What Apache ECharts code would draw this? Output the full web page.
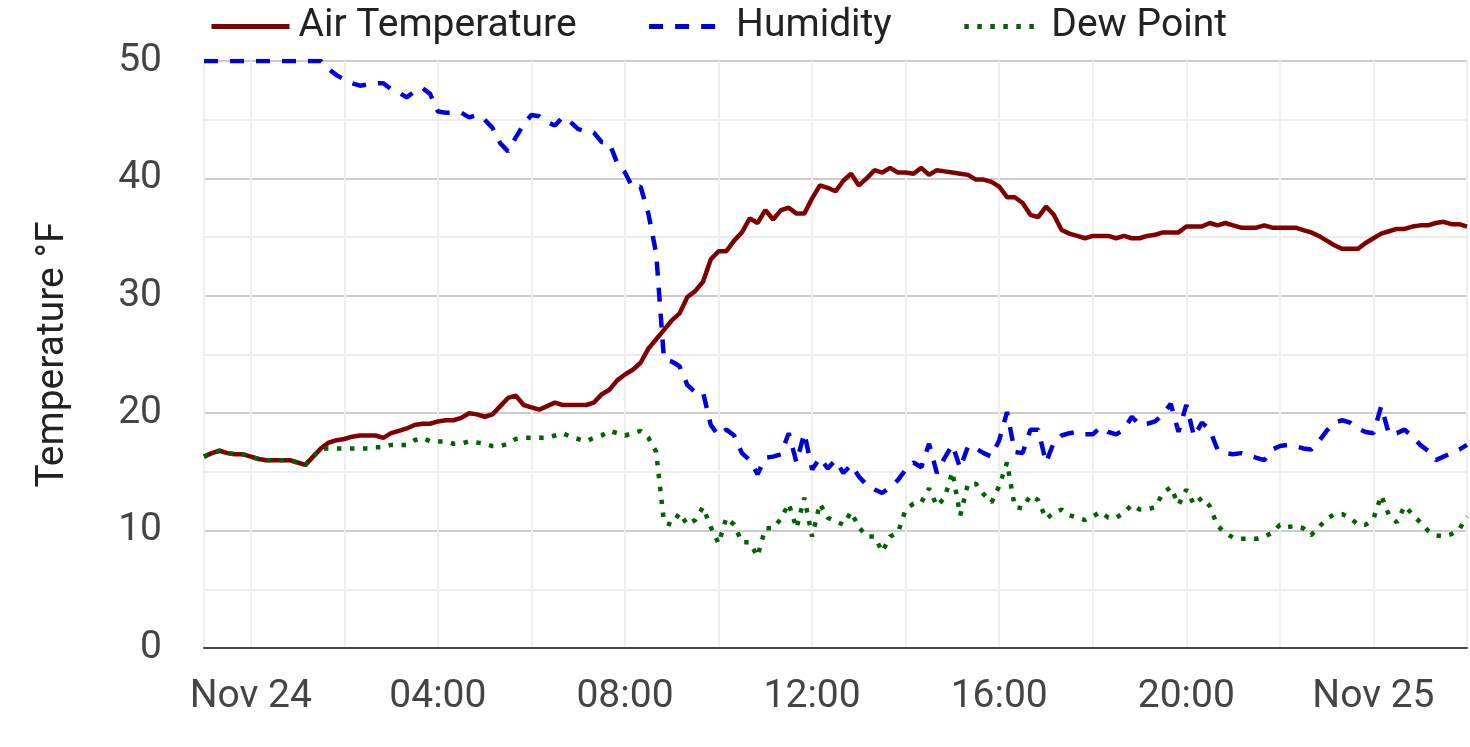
<!DOCTYPE html>
<html>
<head>
<meta charset="utf-8">
<script src="https://cdn.jsdelivr.net/npm/echarts@6/dist/echarts.min.js"></script>
<style>
  html, body { margin: 0; padding: 0; background: #fff; }
  #main { width: 1470px; height: 747px; }
</style>
</head>
<body>
<div id="main"></div>
<script>
// readings every 10 minutes, from Nov 23 23:00 to Nov 25 02:00
var startTime = new Date(2023, 10, 23, 23, 0, 0).getTime();
var stepMs = 10 * 60 * 1000;

var airTemp = [
  16.3, 16.6, 16.8, 16.6, 16.5, 16.5, 16.3, 16.1, 16.0, 16.0,
  16.0, 16.0, 15.8, 15.6, 16.3, 17.0, 17.5, 17.7, 17.8, 18.0,
  18.1, 18.1, 18.1, 17.9, 18.3, 18.5, 18.7, 19.0, 19.1, 19.1,
  19.3, 19.4, 19.4, 19.6, 20.0, 19.9, 19.7, 19.9, 20.6, 21.3,
  21.5, 20.7, 20.5, 20.3, 20.6, 20.9, 20.7, 20.7, 20.7, 20.7,
  20.9, 21.6, 22.0, 22.8, 23.3, 23.7, 24.3, 25.5, 26.3, 27.1,
  27.9, 28.5, 29.9, 30.4, 31.2, 33.1, 33.8, 33.8, 34.7, 35.4,
  36.6, 36.2, 37.3, 36.5, 37.3, 37.5, 37.0, 37.0, 38.3, 39.4,
  39.2, 38.9, 39.8, 40.4, 39.4, 40.0, 40.7, 40.5, 40.9, 40.5,
  40.5, 40.4, 40.9, 40.3, 40.7, 40.6, 40.5, 40.4, 40.3, 39.9,
  39.9, 39.7, 39.3, 38.4, 38.4, 37.9, 36.9, 36.7, 37.6, 36.9,
  35.6, 35.3, 35.1, 34.9, 35.1, 35.1, 35.1, 34.9, 35.1, 34.9,
  34.9, 35.1, 35.2, 35.4, 35.4, 35.4, 35.9, 35.9, 35.9, 36.2,
  36.0, 36.2, 36.0, 35.8, 35.8, 35.8, 36.0, 35.8, 35.8, 35.8,
  35.8, 35.6, 35.4, 35.1, 34.7, 34.3, 34.0, 34.0, 34.0, 34.5,
  34.9, 35.3, 35.5, 35.7, 35.7, 35.9, 36.0, 36.0, 36.2, 36.3,
  36.1, 36.1, 35.9
];

var humidity = [
  50, 50, 50, 50, 50, 50, 50, 50, 50, 50,
  50, 50, 50, 50, 50, 50, 49.3, 48.8, 48.4, 48.1,
  47.9, 48.0, 48.1, 48.1, 47.6, 47.3, 46.9, 47.4, 47.7, 47.2,
  45.7, 45.6, 45.6, 45.6, 45.2, 45.4, 45.0, 44.3, 43.0, 42.3,
  43.5, 44.6, 45.4, 45.3, 44.8, 44.5, 45.2, 44.8, 44.2, 44.0,
  43.9, 43.1, 43.0, 41.3, 40.5, 39.2, 39.3, 37.0, 33.6, 24.6,
  24.4, 24.0, 22.4, 21.8, 21.8, 19.0, 18.1, 18.6, 18.1, 16.6,
  16.0, 14.8, 16.2, 16.3, 16.5, 18.3, 15.8, 18.3, 15.2, 16.2,
  15.3, 16.0, 14.9, 15.6, 14.6, 13.9, 13.5, 13.2, 13.7, 14.3,
  15.2, 15.8, 15.4, 17.4, 14.9, 16.2, 17.3, 15.3, 17.2, 17.0,
  16.6, 16.3, 17.7, 20.1, 16.7, 16.6, 18.6, 18.6, 15.8, 17.5,
  18.1, 18.3, 18.4, 18.2, 18.2, 18.8, 18.4, 18.2, 18.6, 19.7,
  19.0, 19.1, 19.3, 19.9, 20.8, 18.4, 20.7, 18.0, 19.2, 18.6,
  16.9, 16.6, 16.5, 16.6, 16.4, 16.2, 16.0, 16.9, 17.2, 17.3,
  17.2, 17.0, 16.9, 17.6, 18.5, 19.2, 19.4, 19.2, 18.7, 18.4,
  18.3, 20.6, 18.2, 18.3, 18.6, 18.0, 17.3, 16.8, 16.0, 16.3,
  16.6, 16.9, 17.3
];

var dewPoint = [
  16.3, 16.6, 16.8, 16.6, 16.5, 16.5, 16.3, 16.1, 16.0, 16.0,
  16.0, 16.0, 15.8, 15.6, 16.3, 17.0, 17.0, 17.0, 17.0, 17.0,
  17.0, 17.0, 17.1, 17.1, 17.3, 17.3, 17.3, 17.7, 17.9, 17.6,
  17.6, 17.6, 17.4, 17.4, 17.6, 17.5, 17.4, 17.2, 17.2, 17.4,
  17.8, 17.9, 17.9, 17.9, 17.9, 18.1, 18.3, 18.0, 17.8, 17.6,
  17.9, 18.1, 18.5, 18.3, 18.1, 18.3, 18.5, 17.9, 16.7, 10.7,
  10.5, 11.5, 10.5, 10.9, 12.0, 10.3, 8.9, 11.1, 10.5, 9.0,
  9.0, 7.8, 10.2, 10.2, 11.0, 12.3, 10.2, 12.8, 9.5, 12.3,
  11.1, 10.8, 10.5, 11.6, 10.3, 9.5, 9.5, 8.2, 9.5, 9.8,
  11.8, 12.3, 12.4, 13.6, 12.1, 12.8, 15.0, 11.3, 14.0, 14.0,
  13.1, 12.4, 13.8, 15.8, 12.0, 11.9, 13.0, 12.6, 11.0, 11.5,
  11.8, 11.3, 11.1, 10.9, 11.2, 11.6, 11.1, 11.1, 11.5, 12.2,
  11.8, 11.8, 12.0, 13.2, 13.7, 12.2, 13.5, 12.2, 12.8, 12.1,
  10.4, 9.8, 9.4, 9.3, 9.3, 9.3, 9.5, 9.8, 10.5, 10.3,
  10.4, 10.2, 9.6, 10.3, 11.0, 11.4, 11.4, 11.1, 10.5, 10.5,
  11.0, 13.0, 11.3, 10.7, 12.1, 11.4, 10.7, 10.0, 9.6, 9.5,
  9.7, 10.1, 11.2
];

var axisStart = new Date(2023, 10, 23, 23, 0, 0).getTime();
var axisEnd = new Date(2023, 10, 25, 2, 0, 0).getTime();
var monthNames = ['Jan', 'Feb', 'Mar', 'Apr', 'May', 'Jun', 'Jul', 'Aug', 'Sep', 'Oct', 'Nov', 'Dec'];

function withTimes(values) {
  return values.map(function (v, i) {
    return [startTime + i * stepMs, v];
  });
}

function timeLabel(value) {
  var d = new Date(value);
  var h = d.getHours();
  if (d.getMinutes() !== 0 || h % 4 !== 0) return '';
  if (h === 0) return monthNames[d.getMonth()] + ' ' + d.getDate();
  return (h < 10 ? '0' : '') + h + ':00';
}

var font = 'Roboto, "Noto Sans", sans-serif';

var option = {
  animation: false,
  textStyle: { fontFamily: font },
  legend: {
    left: 204,
    top: 2,
    itemWidth: 78,
    itemHeight: 14,
    itemGap: 70,
    itemStyle: { opacity: 0 },
    lineStyle: { width: 5 },
    textStyle: { fontSize: 39, color: '#222', fontFamily: font, padding: [0, 0, 0, 4] },
    data: ['Air Temperature', 'Humidity', 'Dew Point']
  },
  grid: {
    left: 204,
    right: 0,
    top: 61,
    bottom: 99,
    containLabel: false
  },
  xAxis: {
    type: 'time',
    min: axisStart,
    max: axisEnd,
    splitNumber: 10,
    axisLine: { show: true, lineStyle: { color: '#444', width: 2 } },
    axisTick: { show: false },
    axisLabel: {
      formatter: timeLabel,
      hideOverlap: false,
      margin: 30,
      fontSize: 39,
      color: '#444',
      fontFamily: font
    },
    splitLine: { show: true, lineStyle: { color: '#efefef', width: 2 } }
  },
  yAxis: {
    type: 'value',
    min: 0,
    max: 50,
    interval: 10,
    name: 'Temperature °F',
    nameLocation: 'middle',
    nameGap: 131,
    nameTextStyle: { fontSize: 39, color: '#222', fontFamily: font },
    axisLine: { show: false },
    axisTick: { show: false },
    axisLabel: { margin: 42, fontSize: 39, color: '#444', fontFamily: font },
    splitLine: { lineStyle: { color: '#cccccc', width: 2 } },
    minorTick: { show: false, splitNumber: 2 },
    minorSplitLine: { show: true, lineStyle: { color: '#ececec', width: 2 } }
  },
  series: [
    {
      name: 'Air Temperature',
      type: 'line',
      symbol: 'none',
      data: withTimes(airTemp),
      lineStyle: { color: '#800000', width: 4.5 },
      itemStyle: { color: '#800000' },
      z: 3
    },
    {
      name: 'Humidity',
      type: 'line',
      symbol: 'none',
      data: withTimes(humidity),
      lineStyle: { color: '#0000dd', width: 4.5, type: [14, 12] },
      itemStyle: { color: '#0000dd' },
      z: 2
    },
    {
      name: 'Dew Point',
      type: 'line',
      symbol: 'none',
      data: withTimes(dewPoint),
      lineStyle: { color: '#006400', width: 4.5, type: [4.5, 8.5] },
      itemStyle: { color: '#006400' },
      z: 4
    }
  ]
};

var myChart = echarts.init(document.getElementById('main'));
myChart.setOption(option);
</script>
</body>
</html>
